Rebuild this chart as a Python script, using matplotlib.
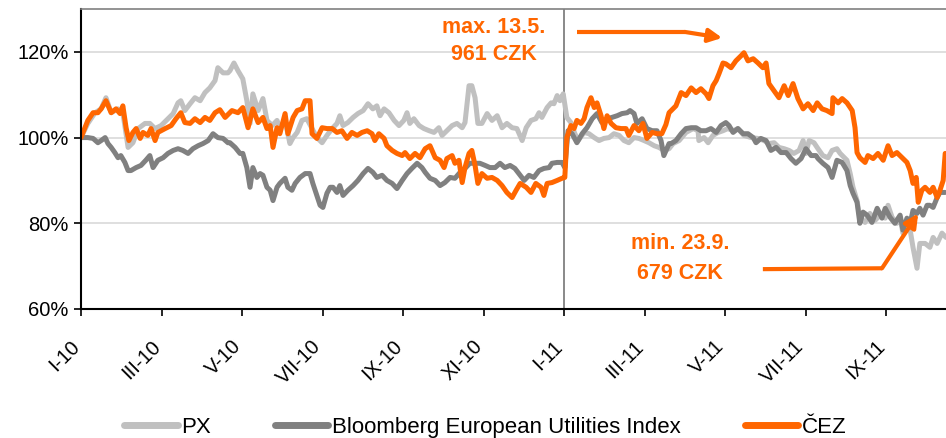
import matplotlib
matplotlib.use('Agg')
import matplotlib.pyplot as plt
import matplotlib.transforms as mtransforms

plt.rcParams['font.family'] = ['Liberation Sans', 'DejaVu Sans']

# time axis in months since I-2010, values in % of start level
cez_t = [0, 0.17, 0.30, 0.42, 0.50, 0.62, 0.75, 0.87, 0.97, 1.04, 1.12, 1.19, 1.29, 1.37, 1.47,
         1.54, 1.66, 1.74, 1.84, 1.91, 2.09, 2.24, 2.36, 2.48, 2.58, 2.71, 2.83, 2.96, 3.08, 3.20,
         3.33, 3.45, 3.58, 3.75, 3.90, 4.02, 4.15, 4.27, 4.40, 4.52, 4.62, 4.70, 4.77, 4.87, 4.94,
         5.07, 5.14, 5.27, 5.37, 5.49, 5.57, 5.69, 5.74, 5.86, 5.99, 6.11, 6.24, 6.36, 6.48, 6.61,
         6.73, 6.86, 6.98, 7.11, 7.23, 7.30, 7.40, 7.53, 7.60, 7.73, 7.85, 7.98, 8.05, 8.17, 8.30,
         8.42, 8.55, 8.67, 8.80, 8.92, 9.02, 9.09, 9.22, 9.29, 9.39, 9.47, 9.54, 9.64, 9.71, 9.79,
         9.86, 9.96, 10.09, 10.21, 10.34, 10.46, 10.58, 10.71, 10.81, 10.91, 11.06, 11.18, 11.30, 11.43, 11.50,
         11.58, 11.70, 11.83, 11.95, 12.02, 12.07, 12.17, 12.25, 12.32, 12.42, 12.50, 12.57, 12.67, 12.75, 12.82,
         12.92, 12.99, 13.07, 13.17, 13.29, 13.42, 13.54, 13.61, 13.74, 13.86, 13.96, 14.06, 14.19, 14.31, 14.43,
         14.53, 14.61, 14.78, 14.91, 15.03, 15.16, 15.28, 15.40, 15.53, 15.60, 15.70, 15.78, 15.85, 15.95, 16.02,
         16.15, 16.27, 16.40, 16.47, 16.57, 16.70, 16.82, 16.94, 17.02, 17.09, 17.22, 17.34, 17.47, 17.57, 17.69,
         17.81, 17.94, 18.06, 18.19, 18.29, 18.41, 18.53, 18.66, 18.68, 18.81, 18.91, 19.03, 19.16, 19.23, 19.28,
         19.35, 19.48, 19.55, 19.68, 19.80, 19.93, 20.05, 20.15, 20.27, 20.40, 20.52, 20.60, 20.67, 20.75, 20.80,
         20.89, 20.97, 21.09, 21.17, 21.27, 21.34, 21.42, 21.47]
cez_v = [100.0, 104.0, 105.8, 105.8, 106.7, 108.6, 105.8, 106.7, 105.6, 107.4, 102.3, 99.3, 101.2, 102.1, 99.8,
         101.2, 100.5, 102.1, 99.3, 101.2, 102.1, 102.8, 104.4, 105.8, 103.5, 103.3, 104.4, 103.5, 104.7, 104.0,
         105.8, 106.5, 104.7, 106.3, 105.8, 107.0, 102.3, 106.7, 103.5, 104.7, 102.1, 102.8, 97.7, 102.3, 100.9,
         105.6, 100.9, 104.7, 106.3, 106.7, 108.6, 108.6, 100.9, 99.8, 102.3, 102.1, 102.1, 101.2, 101.6, 99.8,
         101.2, 100.5, 101.2, 101.6, 100.9, 99.3, 100.9, 99.8, 98.1, 97.0, 96.3, 95.8, 96.5, 95.1, 96.3,
         95.3, 97.4, 98.1, 95.3, 94.7, 93.0, 95.1, 95.8, 94.0, 94.7, 89.5, 93.0, 96.3, 97.0, 93.5,
         89.3, 91.6, 90.5, 90.7, 90.0, 88.8, 87.2, 86.0, 87.7, 89.3, 88.4, 87.2, 89.3, 88.4, 86.5,
         89.3, 89.5, 90.0, 90.5, 90.7, 100.0, 102.8, 102.1, 104.0, 103.3, 104.4, 107.0, 109.3, 107.0, 108.1,
         105.1, 102.1, 105.1, 103.3, 102.3, 102.1, 102.1, 100.5, 102.8, 101.6, 103.3, 99.8, 101.2, 100.9, 100.9,
         103.0, 105.8, 107.4, 110.5, 109.8, 111.6, 110.5, 111.4, 110.2, 109.1, 112.1, 113.3, 114.9, 117.4, 117.2,
         116.3, 117.9, 119.1, 119.8, 117.9, 118.4, 117.4, 116.3, 117.4, 112.6, 110.9, 109.3, 112.1, 109.8, 112.6,
         109.1, 106.7, 107.9, 106.3, 108.1, 106.7, 106.3, 105.6, 109.3, 108.1, 109.1, 108.1, 106.3, 102.3, 96.5,
         95.3, 94.2, 95.8, 95.1, 96.3, 94.7, 98.1, 95.8, 96.5, 95.3, 94.2, 92.3, 89.3, 90.7, 84.9,
         87.7, 88.4, 87.2, 88.4, 86.0, 87.7, 90.0, 96.3]

px_t = [0, 0.17, 0.35, 0.50, 0.62, 0.75, 0.92, 1.04, 1.17, 1.29, 1.42, 1.59, 1.71, 1.84, 1.99,
        2.16, 2.29, 2.41, 2.48, 2.58, 2.71, 2.83, 2.96, 3.08, 3.20, 3.33, 3.40, 3.53, 3.65, 3.70,
        3.80, 3.90, 4.02, 4.12, 4.20, 4.27, 4.40, 4.52, 4.62, 4.75, 4.87, 4.94, 5.07, 5.19, 5.27,
        5.37, 5.49, 5.61, 5.74, 5.86, 5.99, 6.11, 6.24, 6.36, 6.43, 6.51, 6.63, 6.76, 6.88, 7.01,
        7.13, 7.25, 7.35, 7.43, 7.53, 7.65, 7.78, 7.90, 8.02, 8.10, 8.17, 8.27, 8.40, 8.52, 8.65,
        8.77, 8.89, 8.97, 9.09, 9.22, 9.34, 9.47, 9.54, 9.64, 9.71, 9.79, 9.86, 9.96, 10.09, 10.21,
        10.34, 10.46, 10.58, 10.71, 10.83, 10.96, 11.06, 11.18, 11.30, 11.38, 11.45, 11.58, 11.68, 11.75, 11.83,
        11.90, 11.98, 12.07, 12.17, 12.27, 12.35, 12.50, 12.62, 12.75, 12.87, 12.99, 13.12, 13.24, 13.37, 13.49,
        13.61, 13.74, 13.86, 13.99, 14.11, 14.24, 14.36, 14.48, 14.61, 14.71, 14.86, 15.03, 15.21, 15.33, 15.35,
        15.48, 15.58, 15.70, 15.83, 15.95, 16.07, 16.20, 16.32, 16.47, 16.65, 16.82, 16.97, 17.09, 17.22, 17.34,
        17.47, 17.59, 17.71, 17.84, 17.94, 18.01, 18.09, 18.21, 18.31, 18.43, 18.56, 18.66, 18.78, 18.86, 19.03,
        19.11, 19.18, 19.28, 19.35, 19.48, 19.60, 19.73, 19.85, 19.98, 20.05, 20.15, 20.27, 20.35, 20.42, 20.52,
        20.60, 20.67, 20.77, 20.84, 20.97, 21.09, 21.17, 21.27, 21.39, 21.49]
px_v = [100.0, 103.3, 105.8, 106.7, 109.3, 105.8, 106.7, 105.8, 97.7, 98.8, 102.1, 103.3, 103.3, 102.1, 102.8,
        104.4, 105.6, 108.1, 108.6, 106.3, 107.9, 109.3, 108.6, 110.5, 111.6, 113.3, 116.3, 115.1, 115.1, 115.6,
        117.4, 115.6, 113.7, 108.6, 103.3, 110.2, 106.3, 109.1, 104.0, 102.8, 104.0, 102.3, 104.0, 98.6, 100.0,
        101.2, 104.0, 104.4, 102.1, 100.0, 98.8, 100.5, 102.1, 103.3, 105.1, 102.8, 103.5, 104.7, 105.6, 106.3,
        107.9, 106.7, 107.4, 105.1, 106.7, 105.8, 104.0, 102.8, 104.0, 105.8, 103.3, 104.4, 102.8, 102.1, 101.6,
        101.2, 102.3, 100.5, 101.6, 102.8, 103.3, 102.3, 103.5, 112.1, 112.1, 109.3, 103.3, 103.3, 105.6, 104.0,
        105.1, 102.3, 103.3, 102.3, 102.1, 99.3, 102.3, 104.0, 104.4, 105.8, 104.7, 107.0, 108.1, 107.9, 109.8,
        108.6, 110.2, 104.7, 103.5, 100.9, 99.3, 101.2, 100.9, 100.0, 99.3, 99.8, 100.0, 100.9, 100.5, 99.3,
        98.8, 100.0, 99.8, 99.3, 98.8, 98.1, 97.7, 97.0, 97.4, 98.6, 99.3, 101.2, 102.1, 101.6, 99.3,
        100.0, 98.8, 100.5, 101.2, 101.6, 102.1, 101.6, 102.1, 100.5, 100.0, 99.8, 99.3, 98.6, 98.8, 97.7,
        97.4, 97.0, 96.3, 97.0, 99.3, 96.3, 99.3, 98.8, 97.4, 95.8, 95.3, 97.0, 97.4, 96.3, 94.7,
        91.6, 88.4, 85.3, 81.2, 80.2, 82.3, 80.7, 81.9, 81.2, 84.2, 81.4, 80.0, 81.4, 77.7, 80.7,
        78.4, 74.4, 69.5, 75.3, 75.3, 74.4, 76.7, 75.3, 77.7, 76.7]

bbg_t = [0, 0.17, 0.30, 0.42, 0.50, 0.60, 0.67, 0.75, 0.84, 0.92, 0.99, 1.09, 1.17, 1.24, 1.37,
         1.49, 1.61, 1.71, 1.79, 1.91, 2.04, 2.16, 2.29, 2.41, 2.53, 2.66, 2.78, 2.91, 3.03, 3.16,
         3.28, 3.40, 3.53, 3.65, 3.70, 3.83, 3.95, 4.02, 4.12, 4.20, 4.27, 4.37, 4.45, 4.52, 4.62,
         4.70, 4.77, 4.87, 4.94, 5.07, 5.14, 5.24, 5.32, 5.44, 5.57, 5.69, 5.76, 5.86, 5.94, 6.01,
         6.11, 6.19, 6.26, 6.36, 6.43, 6.51, 6.63, 6.76, 6.88, 7.01, 7.13, 7.25, 7.35, 7.48, 7.60,
         7.73, 7.85, 7.98, 8.10, 8.22, 8.35, 8.47, 8.55, 8.67, 8.80, 8.92, 9.04, 9.17, 9.29, 9.42,
         9.54, 9.66, 9.79, 9.91, 10.04, 10.16, 10.29, 10.41, 10.53, 10.66, 10.78, 10.91, 11.01, 11.13, 11.25,
         11.38, 11.50, 11.63, 11.70, 11.83, 11.95, 12.02, 12.10, 12.20, 12.32, 12.45, 12.57, 12.70, 12.82, 12.94,
         13.07, 13.19, 13.32, 13.44, 13.57, 13.64, 13.74, 13.81, 13.94, 14.06, 14.19, 14.31, 14.41, 14.48, 14.61,
         14.66, 14.78, 14.91, 15.03, 15.16, 15.28, 15.40, 15.53, 15.65, 15.78, 15.90, 16.02, 16.10, 16.20, 16.32,
         16.45, 16.57, 16.70, 16.77, 16.89, 17.02, 17.14, 17.27, 17.39, 17.52, 17.64, 17.76, 17.89, 18.01, 18.14,
         18.26, 18.31, 18.43, 18.56, 18.66, 18.78, 18.91, 19.03, 19.11, 19.18, 19.28, 19.35, 19.43, 19.53, 19.65,
         19.78, 19.90, 19.98, 20.10, 20.22, 20.35, 20.42, 20.52, 20.60, 20.67, 20.77, 20.84, 20.92, 21.02, 21.09,
         21.17, 21.27, 21.34, 21.47]
bbg_v = [100.0, 100.0, 99.8, 98.8, 99.3, 100.0, 98.6, 97.7, 96.5, 95.3, 95.8, 94.2, 92.3, 92.3, 93.0,
         93.5, 94.7, 95.8, 93.0, 94.7, 95.3, 96.3, 97.0, 97.4, 97.0, 96.3, 97.4, 98.1, 98.6, 99.3,
         100.9, 100.0, 99.8, 98.8, 98.8, 97.7, 96.3, 96.3, 93.0, 88.4, 93.0, 90.7, 91.6, 91.2, 88.4,
         87.7, 85.3, 88.4, 89.3, 90.5, 88.4, 87.7, 89.3, 90.7, 91.6, 91.6, 89.3, 86.5, 84.2, 83.7,
         87.0, 88.4, 88.4, 87.2, 88.8, 86.5, 87.7, 88.8, 90.0, 91.6, 92.8, 91.9, 90.7, 91.2, 90.0,
         89.3, 88.1, 90.0, 91.6, 92.8, 94.0, 93.0, 91.9, 90.5, 90.0, 88.8, 89.5, 90.7, 90.5, 91.9,
         92.8, 94.0, 94.0, 94.0, 93.5, 93.0, 93.0, 94.0, 93.0, 93.5, 92.8, 91.2, 90.0, 91.2, 90.7,
         92.3, 92.8, 93.0, 94.0, 94.2, 94.2, 93.0, 101.6, 100.9, 98.8, 100.9, 102.3, 104.4, 105.6, 103.5,
         104.4, 104.7, 105.1, 105.6, 105.8, 106.3, 105.6, 103.3, 104.4, 102.1, 101.6, 101.6, 99.3, 95.8, 98.6,
         98.6, 99.3, 100.9, 102.1, 102.3, 102.3, 101.6, 101.6, 102.1, 101.2, 102.8, 103.5, 102.8, 101.2, 102.1,
         100.9, 100.9, 100.0, 98.8, 99.8, 99.3, 97.0, 97.7, 96.5, 96.5, 95.1, 94.0, 95.1, 97.4, 95.8,
         95.8, 95.1, 94.0, 93.0, 90.7, 94.7, 94.2, 92.3, 88.8, 87.0, 84.9, 80.0, 82.6, 81.9, 80.2,
         83.5, 81.2, 83.5, 81.4, 80.0, 81.9, 78.4, 81.2, 80.0, 83.0, 82.3, 83.5, 81.9, 84.2, 84.2,
         83.7, 86.0, 87.2, 87.2]

tick_pos = [0, 2, 4, 6, 8, 10, 12, 14, 16, 18, 20]
tick_labels = ['I-10', 'III-10', 'V-10', 'VII-10', 'IX-10', 'XI-10',
               'I-11', 'III-11', 'V-11', 'VII-11', 'IX-11']

orange = '#FF6600'
light = '#C0C0C0'
dark = '#808080'

fig = plt.figure(figsize=(9.46, 4.38), dpi=100)
ax = fig.add_axes([81 / 946, 1 - 309 / 438, 1 - 81 / 946, 300 / 438])

kw = dict(lw=3.6, solid_joinstyle='round', solid_capstyle='round')
ax.plot(px_t, px_v, color=light, label='PX', **kw)
ax.plot(bbg_t, bbg_v, color=dark, label='Bloomberg European Utilities Index', **kw)
ax.plot(cez_t, cez_v, color=orange, label='ČEZ', **kw)

ax.axvline(12, color=dark, lw=1.3, zorder=1)

ax.set_xlim(0, 21.49)
ax.set_ylim(60, 130)
ax.set_yticks([60, 80, 100, 120])
ax.set_yticklabels(['60%', '80%', '100%', '120%'])
for y in [80, 100, 120]:
    ax.axhline(y, color='#D9D9D9', lw=1.2, zorder=0)

ax.tick_params(axis='y', length=5, width=1.2, pad=4, labelsize=14.5, direction='out')
ax.tick_params(axis='x', length=5, width=1.2, pad=15, labelsize=14.5, direction='out')

ax.set_xticks(tick_pos)
ax.set_xticklabels(tick_labels, rotation=45, ha='right', va='top', rotation_mode='anchor')
# shift the slanted labels a little to the left (after tick_params, which resets transforms)
offset = mtransforms.ScaledTranslation(-0.11, 0, fig.dpi_scale_trans)
for lab in ax.get_xticklabels():
    lab.set_transform(lab.get_transform() + offset)

ax.spines['right'].set_visible(False)
ax.spines['top'].set_color(dark)
ax.spines['top'].set_linewidth(1.2)
ax.spines['left'].set_linewidth(1.5)
ax.spines['bottom'].set_linewidth(1.5)

# annotations
ax.text(10.26, 122.5, 'max. 13.5.\n961 CZK', color=orange, fontsize=15.5, fontweight='bold',
        ha='center', va='center', linespacing=1.4)
ax.plot([12.32, 15.0], [124.65, 124.65], color=orange, lw=3, solid_capstyle='butt')
ax.annotate('', xy=(15.93, 123.26), xytext=(15.0, 124.65),
            arrowprops=dict(arrowstyle='-|>', color=orange, lw=3, mutation_scale=20,
                            shrinkA=0, shrinkB=0))

ax.text(14.88, 71.8, 'min. 23.9.\n679 CZK', color=orange, fontsize=15.5, fontweight='bold',
        ha='center', va='center', linespacing=1.6)
ax.plot([16.94, 19.9], [69.3, 69.5], color=orange, lw=3, solid_capstyle='butt')
ax.annotate('', xy=(20.8, 82.3), xytext=(19.9, 69.5),
            arrowprops=dict(arrowstyle='-|>', color=orange, lw=3, mutation_scale=20,
                            shrinkA=0, shrinkB=0))

leg = fig.legend(loc='center', bbox_to_anchor=(0.513, 0.025), ncol=3, frameon=False,
                 fontsize=16, handlelength=2.4, handletextpad=0.15, columnspacing=2.9,
                 borderpad=0)
for h in leg.get_lines():
    h.set_linewidth(5)
    h.set_solid_capstyle('round')

fig.savefig('out.png', dpi=100)
